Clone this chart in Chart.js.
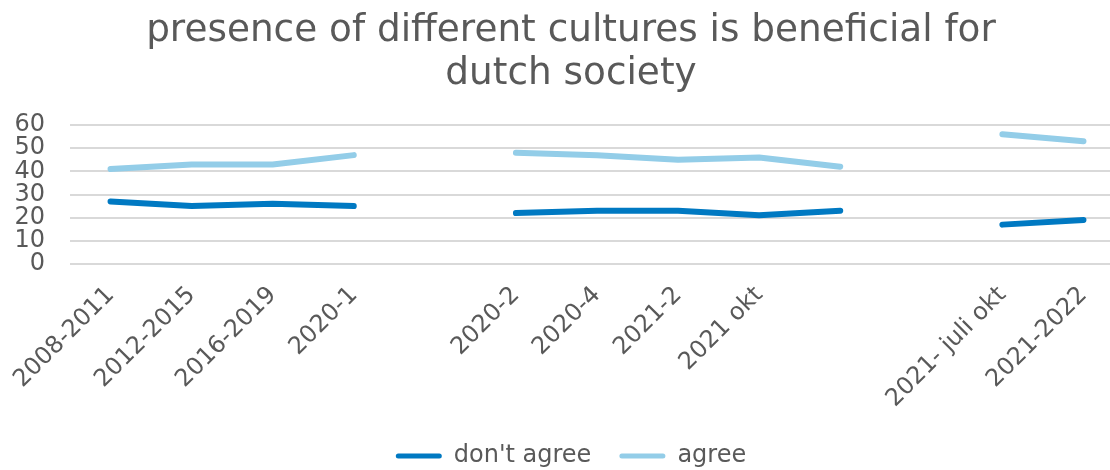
<!DOCTYPE html>
<html>
<head>
<meta charset="utf-8">
<script src="https://cdn.jsdelivr.net/npm/chart.js@4/dist/chart.umd.min.js"></script>
<style>
  html, body { margin: 0; padding: 0; background: #fff; overflow: hidden; }
  #wrap { width: 1142px; height: 470px; }
</style>
</head>
<body>
<div id="wrap"><canvas id="c"></canvas></div>
<script>
// periods on the x axis ('' = empty slot)
const periods = ['2008-2011', '2012-2015', '2016-2019', '2020-1', '', '2020-2', '2020-4', '2021-2', '2021 okt', '', '', '2021- juli okt', '2021-2022'];
const dontAgree = [27, 25, 26, 25, null, 22, 23, 23, 21, 23, null, 17, 19];
const agree = [41, 43, 43, 47, null, 48, 47, 45, 46, 42, null, 56, 53];
const yTicks = [0, 10, 20, 30, 40, 50, 60];

const grey = '#595959';
const font = 'DejaVu Sans, Verdana, sans-serif';

new Chart(document.getElementById('c'), {
    type: 'line',
    data: {
        labels: periods,
        datasets: [
            { label: "don't agree", data: dontAgree, borderColor: '#0079C2', backgroundColor: '#0079C2' },
            { label: 'agree', data: agree, borderColor: '#93CDE8', backgroundColor: '#93CDE8' }
        ]
    },
    options: {
        responsive: true,
        maintainAspectRatio: false,
        animation: false,
        layout: { padding: { left: 0, right: 0, top: 0, bottom: -8 } },
        elements: {
            line: { borderWidth: 6, tension: 0, borderCapStyle: 'round', borderJoinStyle: 'round' },
            point: { radius: 0, hoverRadius: 0 }
        },
        spanGaps: false,
        plugins: {
            tooltip: { enabled: false },
            title: {
                display: true,
                text: ['presence of different cultures is beneficial for', 'dutch society'],
                color: grey,
                font: { family: font, size: 37.4, weight: 'normal', lineHeight: 1.15 },
                padding: { top: 10, bottom: 29 }
            },
            legend: {
                position: 'bottom',
                labels: {
                    color: grey,
                    font: { family: font, size: 24 },
                    boxWidth: 46,
                    boxHeight: 5,
                    useBorderRadius: true,
                    borderRadius: 2.5,
                    padding: 28,
                    generateLabels: chart => Chart.defaults.plugins.legend.labels.generateLabels(chart)
                        .map(item => Object.assign(item, { lineWidth: 0 }))
                }
            }
        },
        scales: {
            x: {
                offset: true,
                grid: { display: false },
                border: { display: false },
                ticks: {
                    color: grey,
                    font: { family: font, size: 24 },
                    autoSkip: false,
                    maxRotation: 45,
                    minRotation: 45,
                    padding: 9
                },
                afterFit: s => { s.height = 152; s.paddingLeft = 0; s.paddingRight = 0; }
            },
            y: {
                min: 0,
                max: 60,
                grid: { color: '#D9D9D9', lineWidth: 2, drawTicks: false },
                border: { display: false },
                ticks: {
                    color: grey,
                    font: { family: font, size: 24 },
                    padding: 25,
                    stepSize: 10,
                    autoSkip: false,
                    callback: v => yTicks.includes(v) ? v : null
                },
                afterFit: s => { s.width = 70; s.paddingTop = 0; s.paddingBottom = 0; }
            },
            // empty right-hand margin so the plot ends before the title/legend centre line
            yRight: {
                position: 'right',
                grid: { display: false },
                border: { display: false },
                ticks: { display: false },
                afterFit: s => { s.width = 18; s.paddingTop = 0; s.paddingBottom = 0; }
            }
        }
    }
});
</script>
</body>
</html>
